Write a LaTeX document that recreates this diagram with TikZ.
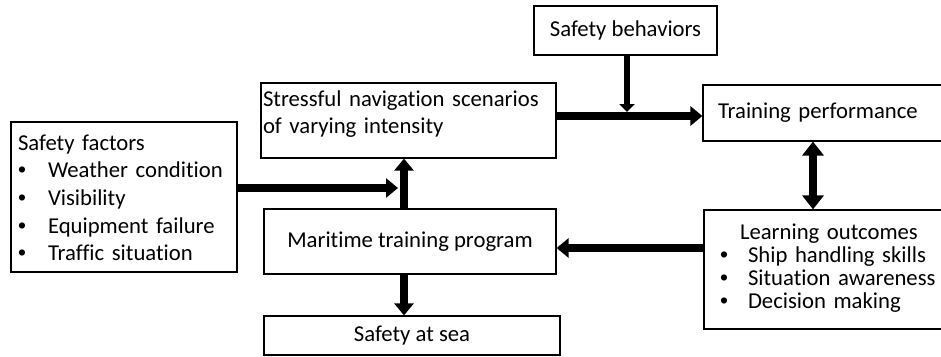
\documentclass[tikz,border=0pt]{standalone}
\usepackage{fontspec}
\setmainfont{Carlito}[Ligatures=NoCommon]
\newfontfamily\bulletfont{Liberation Sans}
\usetikzlibrary{arrows.meta}
% bullet followed by a fixed indent for list items
\newcommand{\bul}[1]{\makebox[#1][l]{\bulletfont\textbullet}}
\begin{document}
\begin{tikzpicture}[x=1pt,y=-1pt,
  box/.style={draw, line width=1.2pt, rectangle, inner ysep=0pt,
    font=\fontsize{22.7}{27.7}\selectfont},
  leftbox/.style={box, align=left},
  flow/.style={line width=7.5pt, -{Triangle[length=12pt,width=19pt]}},
  thinflow/.style={line width=6pt, -{Triangle[length=8pt,width=15pt]}},
  both/.style={line width=7.5pt, {Triangle[length=14pt,width=21pt]}-{Triangle[length=14pt,width=21pt]}},
]
\useasboundingbox (0,0) rectangle (941,356);
\fill[white] (0,0) rectangle (941,356);

% boxes
\node[leftbox, minimum width=226, minimum height=150, inner xsep=7pt, text width=212pt] (sf) at (124,197)
  {\raisebox{-3pt}[\height][\depth]{\begin{tabular}{@{}l@{}}Safety factors\\
   \bul{30pt}Weather condition\\
   \bul{30pt}Visibility\\
   \bul{30pt}Equipment failure\\
   \bul{30pt}Traffic situation\end{tabular}}};

\node[leftbox, minimum width=295, minimum height=75, inner xsep=2pt, text width=291pt] (stress) at (408.5,120.5)
  {\raisebox{6pt}[\height][\depth]{\begin{tabular}{@{}l@{}}Stressful navigation scenarios\\of varying intensity\end{tabular}}};

\node[box, minimum width=183, minimum height=49] (sb) at (625.5,30.5) {Safety behaviors};

\node[leftbox, minimum width=243, minimum height=56, inner xsep=15pt, text width=213pt] (tp) at (824.5,113)
  {Training performance};

\node[box, minimum width=292, minimum height=65] (mt) at (410,241.5) {Maritime training program};

\node[box, minimum width=296, minimum height=39] (sea) at (412,335.5) {Safety at sea};

\node[leftbox, minimum width=242, minimum height=119, inner xsep=0pt, text width=242pt,
  font=\fontsize{22.7}{23}\selectfont] (lo) at (825,269.5)
  {\begin{tabular}{@{}l@{}}\hspace*{36pt}Learning outcomes\\
   \hspace*{16pt}\bul{28pt}Ship handling skills\\
   \hspace*{16pt}\bul{28pt}Situation awareness\\
   \hspace*{16pt}\bul{28pt}Decision making\end{tabular}};

% reference points for the connectors
\coordinate (col) at (404,0);
\coordinate (join) at (398,188);
\coordinate (row) at (0,116);
\coordinate (drop) at (627,112);
\coordinate (pair) at (813,0);
\coordinate (back) at (0,248);

% connectors
\draw[flow] (sf.east |- join) -- (join);
\draw[flow] (mt.north -| col) -- (stress.south -| col);
\draw[flow] (stress.east |- row) -- (tp.west |- row);
\draw[thinflow] (sb.south -| drop) -- (drop);
\draw[both] (tp.south -| pair) -- (lo.north -| pair);
\draw[flow] (lo.west |- back) -- (mt.east |- back);
\draw[flow] (mt.south -| col) -- (sea.north -| col);
\end{tikzpicture}
\end{document}
